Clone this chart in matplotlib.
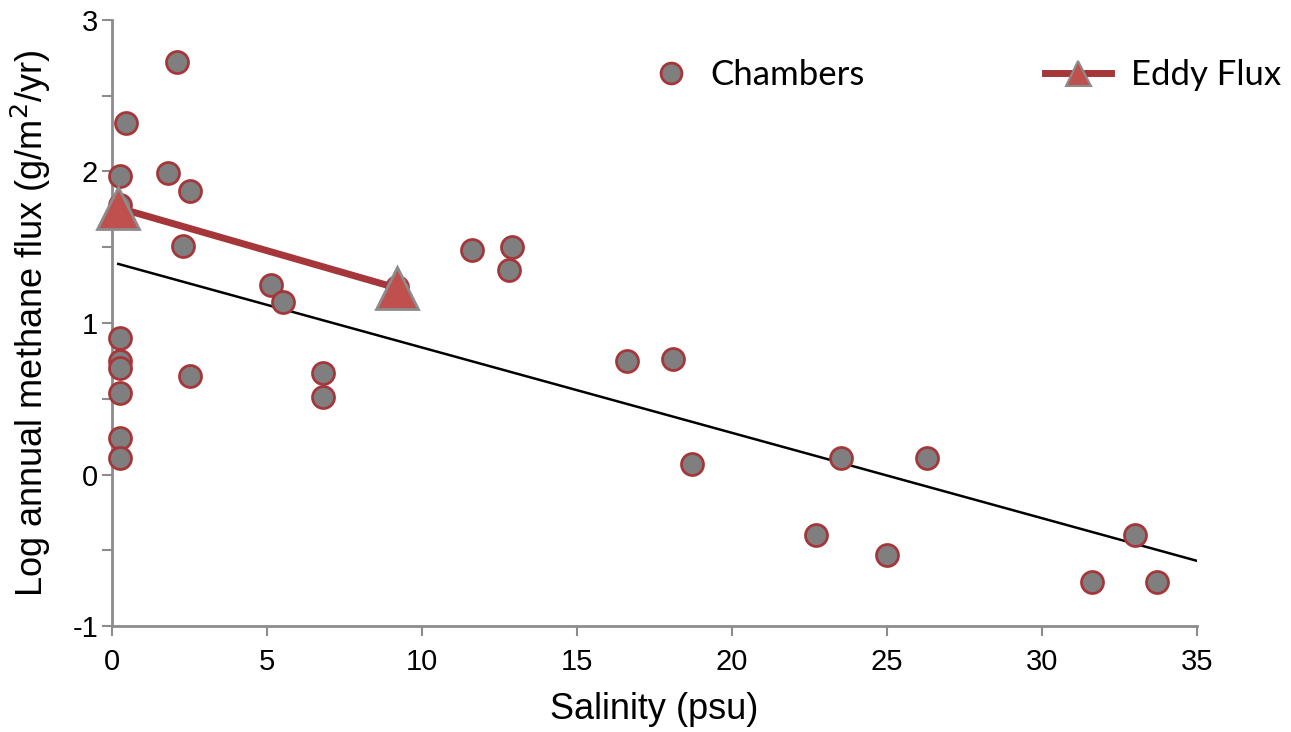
import numpy as np
import matplotlib.pyplot as plt
from matplotlib.lines import Line2D

plt.rcParams['font.family'] = ['Liberation Sans', 'DejaVu Sans']
plt.rcParams['xtick.labelsize'] = 21
plt.rcParams['ytick.labelsize'] = 21

# Chamber measurements (salinity psu, log annual methane flux)
chamber_sal = [0.26, 0.26, 0.45, 2.1, 1.8, 2.5, 2.3, 0.26, 0.26, 0.26, 0.26, 0.26, 0.26,
               2.5, 5.13, 5.5, 6.8, 6.8, 9.2, 11.6, 12.9, 12.8, 16.6, 18.1, 18.7,
               23.5, 26.3, 22.7, 25.0, 31.6, 33.0, 33.7]
chamber_flux = [1.97, 1.78, 2.32, 2.72, 1.99, 1.87, 1.51, 0.90, 0.75, 0.70, 0.54, 0.24, 0.11,
                0.65, 1.25, 1.14, 0.67, 0.51, 1.24, 1.48, 1.50, 1.35, 0.75, 0.76, 0.07,
                0.11, 0.11, -0.40, -0.53, -0.71, -0.40, -0.71]

# Eddy flux towers
eddy_sal = [0.2, 9.2]
eddy_flux = [1.76, 1.23]

# regression line endpoints
fit_sal = [0.2, 35]
fit_flux = [1.39, -0.57]

x_ticks = [0, 5, 10, 15, 20, 25, 30, 35]
y_ticks = [-1, -0.5, 0, 0.5, 1, 1.5, 2, 2.5, 3]
y_labels = ['-1', '', '0', '', '1', '', '2', '', '3']

edge_red = '#a5373a'
gray = '#7f7f7f'
axis_gray = '#8c8c8c'

fig = plt.figure(figsize=(12.91, 7.32), dpi=100)
ax = fig.add_axes([0.0868, 0.1448, 0.8404, 0.8279])

ax.plot(fit_sal, fit_flux, color='black', lw=1.8, zorder=2)
ax.plot(eddy_sal, eddy_flux, color=edge_red, lw=5, zorder=3)
ax.scatter(chamber_sal, chamber_flux, s=250, color=gray, edgecolors=edge_red,
           linewidths=2, zorder=4, clip_on=False)
ax.plot(eddy_sal, eddy_flux, ls='none', marker='^', ms=30, mfc='#c0504d',
        mec=axis_gray, mew=2, zorder=5, clip_on=False)

ax.set_xlim(0, 35)
ax.set_ylim(-1, 3)
ax.set_xticks(x_ticks)
ax.set_yticks(y_ticks)
ax.set_yticklabels(y_labels)

for s in ['top', 'right']:
    ax.spines[s].set_visible(False)
for s in ['left', 'bottom']:
    ax.spines[s].set_color(axis_gray)
    ax.spines[s].set_linewidth(2)
ax.tick_params(axis='both', colors=axis_gray, length=7, width=1.5,
               labelcolor='black', labelsize=21)
ax.tick_params(axis='x', pad=9)
ax.tick_params(axis='y', pad=3)

ax.set_xlabel('Salinity (psu)', fontsize=26, labelpad=11)
ax.set_ylabel('Log annual methane flux (g/m$^2$/yr)', fontsize=26, labelpad=14)

# legend: two separate entries placed like the original
leg_font = {'family': 'Lato', 'size': 25}
h_ch = Line2D([], [], ls='none', marker='o', ms=15, mfc=gray, mec=edge_red, mew=2)
h_ed = Line2D([], [], color=edge_red, lw=5, marker='^', ms=18, mfc='#c0504d',
              mec=axis_gray, mew=1.5)
fig.legend([h_ch], ['Chambers'], loc='center left', bbox_to_anchor=(0.506, 0.8975),
           frameon=False, borderpad=0, borderaxespad=0, handlelength=1.0,
           handletextpad=0.65, prop=leg_font)
fig.legend([h_ed], ['Eddy Flux'], loc='center left', bbox_to_anchor=(0.8095, 0.8975),
           frameon=False, borderpad=0, borderaxespad=0, handlelength=1.9,
           handletextpad=0.58, prop=leg_font)

fig.savefig('out.png', dpi=100)
